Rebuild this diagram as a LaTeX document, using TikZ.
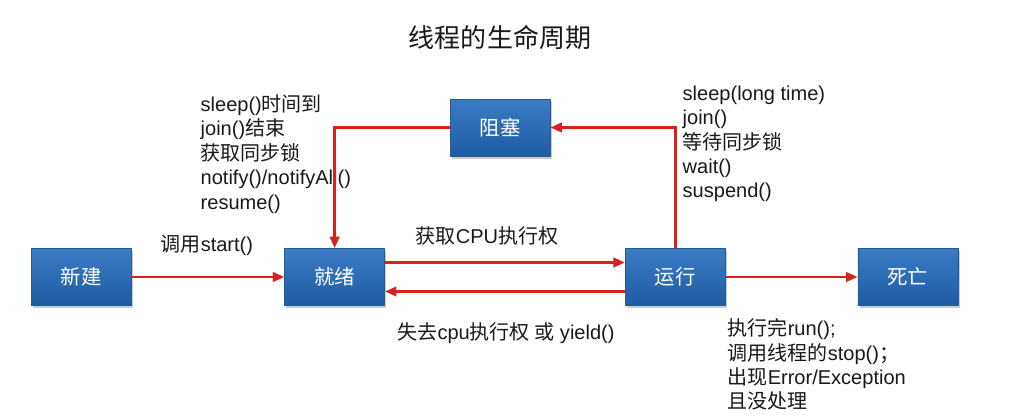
\documentclass[tikz,border=0pt]{standalone}
\usepackage{fontspec}
\setmainfont{Liberation Sans}
\newfontfamily\cjk{Noto Sans CJK SC}
\usepackage{tikz}
\usetikzlibrary{positioning}
\usetikzlibrary{shadows}
\usetikzlibrary{arrows.meta}
\definecolor{boxtop}{RGB}{58,124,196}
\definecolor{boxbot}{RGB}{30,92,163}
\definecolor{boxline}{RGB}{36,90,150}
\definecolor{arrowred}{RGB}{214,36,28}
\definecolor{ink}{RGB}{25,25,25}
\newcommand{\cn}[1]{{\cjk #1}}

\begin{document}
\begin{tikzpicture}
	[x=0.02cm, y=-0.02cm, thick,
	state/.style = {draw=boxline, line width=0.4pt, top color=boxtop, bottom color=boxbot, minimum width=2cm, minimum height=1.14cm, inner sep=0pt, text=white, font=\fontsize{11.6}{13.9}\selectfont\cjk, drop shadow={shadow xshift=1pt, shadow yshift=-1.5pt, opacity=0.4}},
	note/.style = {align=left, inner sep=0pt, text=ink, font=\fontsize{11.4}{13.9}\selectfont},
	flow/.style = {draw=arrowred, line width=1.4pt, -{Triangle[length=2.3mm,width=1.9mm]}}]
	\path[fill=white] (0,0) rectangle (1011,416);
	\useasboundingbox (0,0) rectangle (1011,416);
	\node[text=ink] (title) at (500,38) {\fontsize{14.8}{16}\selectfont\cn{线程的生命周期}};
	\node[state] (new) at (81,277) {新建};
	\node[state] (ready) [right=3.06cm of new] {就绪};
	\node[state] (run) [right=4.8cm of ready] {运行};
	\node[state] (dead) [right=2.64cm of run] {死亡};
	\node[state] (blocked) at (500,127.5) {阻塞};
	\node[note, anchor=west] (start) at (160,245) {\cn{调用}start()};
	\node[note, anchor=north west] (wake) at (200,94) {sleep()\cn{时间到}\\join()\cn{结束}\\\cn{获取同步锁}\\notify()/notifyAll()\\resume()};
	\node[note, anchor=north west] (sleep) at (682,85) {sleep(long time)\\join()\\\cn{等待同步锁}\\wait()\\suspend()};
	\node[note] (getcpu) at (487,236) {\cn{获取}CPU\cn{执行权}};
	\node[note] (losecpu) at (506,333) {\cn{失去}cpu\cn{执行权 或} yield()};
	\node[note, anchor=north west] (finish) at (727,318) {\cn{执行完}run();\\\cn{调用线程的}stop()\cn{；}\\\cn{出现}Error/Exception\\\cn{且没处理}};
	\draw[flow] (new) -- (ready);
	\draw[flow] ([yshift=0.29cm]ready.east) -- ([yshift=0.29cm]run.west);
	\draw[flow] ([yshift=-0.29cm]run.west) -- ([yshift=-0.29cm]ready.east);
	\draw[flow] (run) -- (dead);
	\draw[flow] (run.north) |- (blocked.east);
	\draw[flow] (blocked.west) -| (ready.north);
\end{tikzpicture}
\end{document}
